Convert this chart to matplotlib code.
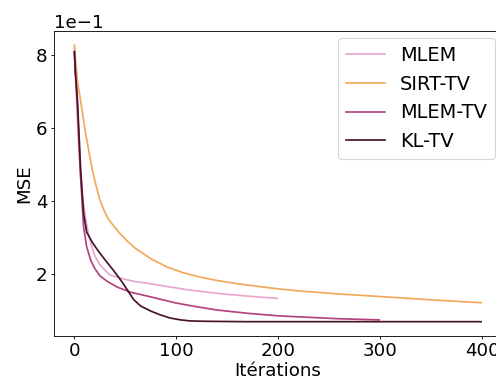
import numpy as np
import matplotlib
matplotlib.use("Agg")
import matplotlib.pyplot as plt

# ===============================
# DATA
# ===============================
mlem_it = [0, 2, 4, 6, 8, 10, 12, 15, 20, 25, 30, 35, 40, 50, 60, 75, 90, 110, 130, 150, 175, 199]
mlem_mse = [0.820, 0.680, 0.560, 0.470, 0.410, 0.370, 0.335, 0.295, 0.250, 0.225, 0.210, 0.197,
            0.193, 0.185, 0.179, 0.173, 0.166, 0.157, 0.150, 0.144, 0.138, 0.133]

sirt_it = [0, 1, 3, 6, 11, 17, 21, 25, 29, 33, 39, 45, 52, 60, 75, 91, 107, 124, 140, 160,
           180, 200, 222, 260, 300, 350, 399]
sirt_mse = [0.828, 0.790, 0.730, 0.677, 0.586, 0.494, 0.445, 0.403, 0.375, 0.352, 0.330,
            0.310, 0.290, 0.270, 0.242, 0.219, 0.203, 0.191, 0.182, 0.173, 0.166, 0.159,
            0.153, 0.145, 0.138, 0.129, 0.121]

mlemtv_it = [0, 3, 6, 9, 12, 16, 20, 25, 32, 42, 55, 75, 100, 120, 140, 170, 200, 222, 260, 299]
mlemtv_mse = [0.810, 0.660, 0.470, 0.330, 0.275, 0.238, 0.215, 0.195, 0.180, 0.164, 0.150,
              0.137, 0.120, 0.110, 0.101, 0.092, 0.085, 0.082, 0.077, 0.074]

kltv_it = [0, 1, 3, 6, 9, 12, 18, 25, 32, 38, 45, 52, 58, 65, 75, 84, 94, 104, 114, 130,
           170, 250, 399]
kltv_mse = [0.810, 0.750, 0.677, 0.493, 0.367, 0.315, 0.285, 0.257, 0.232, 0.211, 0.185,
            0.156, 0.130, 0.112, 0.098, 0.088, 0.079, 0.074, 0.071, 0.070, 0.069, 0.069, 0.069]

labels = ["MLEM", "SIRT-TV", "MLEM-TV", "KL-TV"]
colors = ["#e8a6cb", "#f2a85a", "#b3427f", "#4a1228"]

# ===============================
# PLOT
# ===============================
plt.rcParams["font.size"] = 17

DPI = 77.5
fig = plt.figure(figsize=(496 / DPI, 383 / DPI), dpi=DPI)
ax = fig.add_axes([0.109, 0.124, 0.902, 0.794])

series = [(mlem_it, mlem_mse), (sirt_it, sirt_mse), (mlemtv_it, mlemtv_mse), (kltv_it, kltv_mse)]
for (it, mse), lab, col in zip(series, labels, colors):
    ax.plot(it, mse, color=col, lw=1.6, label=lab)

ax.ticklabel_format(axis="y", style="sci", scilimits=(0, 0))
ax.set_xticks([0, 100, 200, 300, 400])
ax.tick_params(length=3, pad=3)
ax.set_xlabel("Itérations", labelpad=2)
ax.set_ylabel("MSE", labelpad=2)
ax.legend(loc="upper right", fontsize=18, borderaxespad=0.35)

fig.savefig("out.png", dpi=DPI)
